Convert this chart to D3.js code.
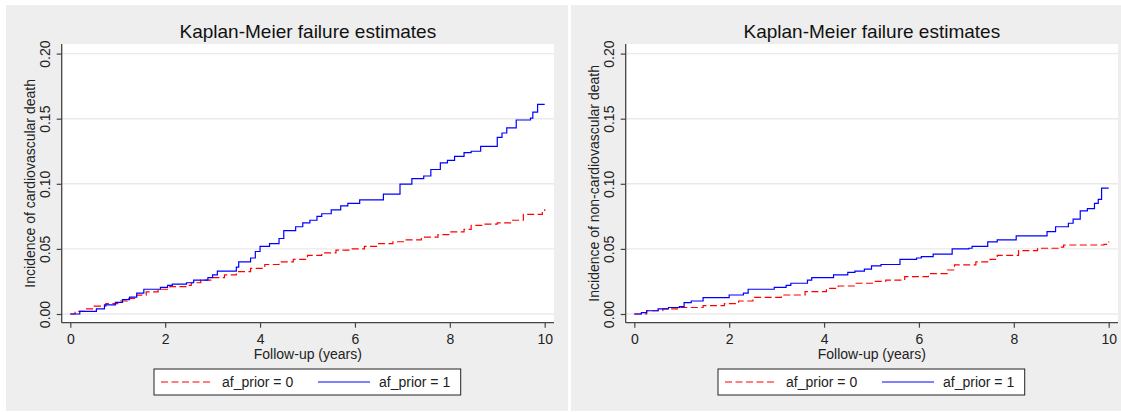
<!DOCTYPE html>
<html lang="en">
<head>
<meta charset="utf-8">
<title>Kaplan-Meier failure estimates</title>
<style>
  body { margin: 0; background: #fff; }
  svg { display: block; font-family: "Liberation Sans", Arial, sans-serif; }
</style>
</head>
<body>
<div id="chart"></div>
<script src="https://d3js.org/d3.v7.min.js"></script>
<script>
// [years, cumulative incidence], value after each step
var cvdAf0 = [[0,0],[0.1,0.002],[0.3,0.004],[0.5,0.006],[0.75,0.008],[1.0,0.010],[1.2,0.012],[1.4,0.0145],[1.6,0.017],
  [1.85,0.019],[2.1,0.021],[2.45,0.022],[2.55,0.024],[2.75,0.026],[3.0,0.028],[3.25,0.030],[3.5,0.0325],[3.8,0.035],
  [4.1,0.038],[4.4,0.040],[4.7,0.042],[5.0,0.045],[5.3,0.047],[5.6,0.049],[5.9,0.050],[6.2,0.052],[6.5,0.054],
  [6.8,0.0555],[7.05,0.057],[7.4,0.059],[7.75,0.061],[8.0,0.063],[8.3,0.065],[8.45,0.068],[8.7,0.069],[9.0,0.070],
  [9.3,0.072],[9.55,0.0765],[9.95,0.0787],[10,0.0805]];
var cvdAf1 = [[0,0],[0.2,0.002],[0.55,0.004],[0.72,0.007],[0.95,0.009],[1.1,0.011],[1.25,0.013],[1.4,0.016],[1.55,0.019],
  [1.9,0.0205],[2.05,0.022],[2.15,0.023],[2.45,0.024],[2.6,0.026],[2.9,0.028],[3.0,0.030],[3.1,0.033],[3.5,0.036],
  [3.55,0.040],[3.8,0.043],[3.9,0.048],[4.0,0.052],[4.2,0.054],[4.4,0.058],[4.5,0.064],[4.75,0.067],[4.9,0.070],
  [5.05,0.072],[5.2,0.075],[5.3,0.077],[5.5,0.080],[5.7,0.083],[5.85,0.085],[6.1,0.0877],[6.6,0.092],[6.95,0.0998],
  [7.2,0.104],[7.45,0.106],[7.6,0.111],[7.8,0.116],[7.95,0.118],[8.1,0.121],[8.3,0.124],[8.45,0.125],[8.65,0.1287],
  [9.0,0.1356],[9.1,0.139],[9.2,0.143],[9.4,0.149],[9.7,0.1505],[9.75,0.155],[9.85,0.161],[10,0.161]];
var noncvdAf0 = [[0,0],[0.26,0.0025],[0.6,0.004],[0.95,0.005],[1.45,0.0064],[1.9,0.008],[2.2,0.010],[2.5,0.0128],
  [3.1,0.0146],[3.6,0.0172],[4.05,0.0197],[4.3,0.0215],[4.65,0.0236],[5.05,0.025],[5.3,0.026],[5.7,0.0287],[6.2,0.031],
  [6.6,0.0338],[6.75,0.0377],[7.2,0.040],[7.5,0.042],[7.65,0.045],[8.1,0.0487],[8.5,0.0505],[9.0,0.0513],[9.05,0.053],
  [9.9,0.0535],[10,0.0556]];
var noncvdAf1 = [[0,0],[0.15,0.001],[0.26,0.0025],[0.5,0.004],[0.72,0.005],[0.95,0.0056],[1.05,0.0087],[1.2,0.010],
  [1.45,0.0126],[2.0,0.0146],[2.3,0.016],[2.4,0.019],[2.95,0.0205],[3.2,0.022],[3.3,0.0236],[3.65,0.026],[3.74,0.028],
  [4.2,0.030],[4.5,0.032],[4.65,0.033],[4.85,0.0344],[5.0,0.037],[5.2,0.038],[5.6,0.042],[5.95,0.043],[6.05,0.044],
  [6.3,0.046],[6.7,0.050],[7.05,0.0505],[7.12,0.052],[7.45,0.0554],[7.65,0.057],[8.05,0.060],[8.7,0.0633],[8.88,0.067],
  [9.15,0.0697],[9.25,0.0728],[9.4,0.0792],[9.55,0.081],[9.7,0.085],[9.78,0.088],[9.85,0.0967],[10,0.0967]];

var xTicks = [0, 2, 4, 6, 8, 10];
var yTicks = [0, 0.05, 0.10, 0.15, 0.20];
var chartTitle = "Kaplan-Meier failure estimates";
var xTitle = "Follow-up (years)";
var yTitles = ["Incidence of cardiovascular death", "Incidence of non-cardiovascular death"];
var legendLabels = ["af_prior = 0", "af_prior = 1"];
var seriesColors = ["#ff0000", "#0000ff"];

var svg = d3.select("#chart").append("svg")
  .attr("width", 1121)
  .attr("height", 412);

var panels = [
  {bgLeft: 6, bgWidth: 562, axisX: 61.7, series: [cvdAf0, cvdAf1], yTitle: yTitles[0]},
  {bgLeft: 571, bgWidth: 550, axisX: 625.7, series: [noncvdAf0, noncvdAf1], yTitle: yTitles[1]}
];

var plotW = 492.3, plotTop = 44, plotBottom = 322.7;

var x = d3.scaleLinear().domain([0, 10]).range([8.6, 483]);
var y = d3.scaleLinear().domain([0, 0.2]).range([314, 53.6]);

var line = d3.line()
  .x(function(d) { return x(d[0]); })
  .y(function(d) { return y(d[1]); })
  .curve(d3.curveStepAfter);

panels.forEach(function(p) {
  svg.append("rect")
    .attr("x", p.bgLeft).attr("y", 5)
    .attr("width", p.bgWidth).attr("height", 406)
    .attr("fill", "#eeeeee");

  var g = svg.append("g").attr("transform", "translate(" + p.axisX + ",0)");

  g.append("rect")
    .attr("x", 0).attr("y", plotTop)
    .attr("width", plotW).attr("height", plotBottom - plotTop)
    .attr("fill", "#ffffff");

  // grid
  g.selectAll(".grid")
    .data(yTicks)
    .enter()
    .append("line")
      .attr("x1", 0).attr("x2", plotW)
      .attr("y1", function(d) { return y(d); })
      .attr("y2", function(d) { return y(d); })
      .attr("stroke", "#eaeaea")
      .attr("stroke-width", 1.4);

  // curves
  p.series.forEach(function(s, i) {
    g.append("path")
      .datum(s)
      .attr("d", line)
      .attr("fill", "none")
      .attr("stroke", seriesColors[i])
      .attr("stroke-width", 1.2)
      .attr("stroke-dasharray", i == 0 ? "7,3.5" : null);
  });

  // y axis
  var ya = g.append("g")
    .call(d3.axisLeft(y).tickValues(yTicks).tickFormat(d3.format(".2f")).tickSize(5).tickSizeOuter(0));
  ya.select(".domain").remove();
  ya.selectAll("line").attr("stroke", "#444").attr("stroke-width", 1.2);
  ya.selectAll("text")
    .attr("x", 0).attr("y", -12).attr("dy", null)
    .attr("transform", "rotate(-90)")
    .style("text-anchor", "middle")
    .style("font-size", "14px")
    .attr("fill", "#222");
  g.append("line")
    .attr("x1", 0).attr("x2", 0).attr("y1", plotTop).attr("y2", plotBottom)
    .attr("stroke", "#444").attr("stroke-width", 1.3);

  // x axis
  var xa = g.append("g")
    .attr("transform", "translate(0," + plotBottom + ")")
    .call(d3.axisBottom(x).tickValues(xTicks).tickFormat(d3.format("d")).tickSize(5).tickSizeOuter(0));
  xa.select(".domain").remove();
  xa.selectAll("line").attr("stroke", "#444").attr("stroke-width", 1.2);
  xa.selectAll("text")
    .attr("y", 21.5).attr("dy", null)
    .style("font-size", "14px")
    .attr("fill", "#222");
  g.append("line")
    .attr("x1", 0).attr("x2", plotW).attr("y1", plotBottom).attr("y2", plotBottom)
    .attr("stroke", "#444").attr("stroke-width", 1.3);

  // titles
  g.append("text")
    .attr("x", plotW / 2).attr("y", 37.5)
    .attr("text-anchor", "middle")
    .style("font-size", "19px")
    .attr("fill", "#111")
    .text(chartTitle);
  g.append("text")
    .attr("x", plotW / 2).attr("y", 358.5)
    .attr("text-anchor", "middle")
    .style("font-size", "14px")
    .attr("fill", "#222")
    .text(xTitle);
  g.append("text")
    .attr("transform", "translate(-27," + ((plotTop + plotBottom) / 2) + ")rotate(-90)")
    .attr("text-anchor", "middle")
    .style("font-size", "14px")
    .attr("fill", "#222")
    .text(p.yTitle);

  // legend
  var lg = g.append("g").attr("transform", "translate(92.3,369)");
  lg.append("rect")
    .attr("width", 306.7).attr("height", 26)
    .attr("fill", "#fff").attr("stroke", "#222").attr("stroke-width", 1);
  var keyX = [7, 164];
  legendLabels.forEach(function(lbl, i) {
    lg.append("line")
      .attr("x1", keyX[i]).attr("x2", keyX[i] + 52)
      .attr("y1", 13).attr("y2", 13)
      .attr("stroke", seriesColors[i])
      .attr("stroke-width", 1.2)
      .attr("stroke-dasharray", i == 0 ? "7,3.5" : null);
    lg.append("text")
      .attr("x", keyX[i] + 61).attr("y", 18)
      .style("font-size", "14px")
      .attr("fill", "#222")
      .text(lbl);
  });
});
</script>
</body>
</html>
